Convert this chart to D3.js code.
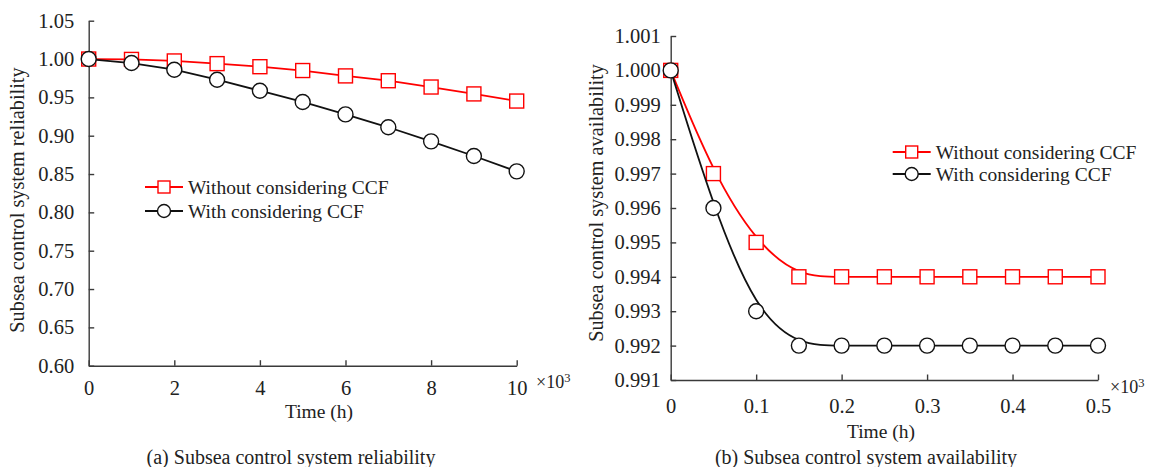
<!DOCTYPE html>
<html>
<head>
<meta charset="utf-8">
<script src="https://cdn.jsdelivr.net/npm/d3@7"></script>
<style>
  body { margin: 0; background: #fff; }
  svg { display: block; }
  text { font-family: "Liberation Serif", "Times New Roman", serif; fill: #222; }
</style>
</head>
<body>
<div id="fig"></div>
<script>
// data: time values (x10^3 h)
var relTime = [0, 1, 2, 3, 4, 5, 6, 7, 8, 9, 10];
var relWithout = [1.000, 0.9995, 0.9975, 0.994, 0.990, 0.985, 0.978, 0.9717, 0.9635, 0.9545, 0.9452];
var relWith = [1.000, 0.9948, 0.9861, 0.973, 0.9587, 0.944, 0.9278, 0.911, 0.8926, 0.8735, 0.8535];
var relYTicks = [0.60, 0.65, 0.70, 0.75, 0.80, 0.85, 0.90, 0.95, 1.00, 1.05];
var relXTicks = [0, 2, 4, 6, 8, 10];

var avTime = [0, 0.05, 0.10, 0.15, 0.20, 0.25, 0.30, 0.35, 0.40, 0.45, 0.50];
var avWithout = [1.000, 0.997, 0.995, 0.994, 0.994, 0.994, 0.994, 0.994, 0.994, 0.994, 0.994];
var avWith = [1.000, 0.996, 0.993, 0.992, 0.992, 0.992, 0.992, 0.992, 0.992, 0.992, 0.992];
var avYTicks = [0.991, 0.992, 0.993, 0.994, 0.995, 0.996, 0.997, 0.998, 0.999, 1.000, 1.001];
var avXTicks = [0, 0.1, 0.2, 0.3, 0.4, 0.5];

var seriesNames = ["Without considering CCF", "With considering CCF"];
var seriesColors = ["#ff0000", "#111111"];

var W = 1150, H = 467;
var axisColor = "#3a3a3a";

var svg = d3.select("#fig").append("svg")
    .attr("width", W)
    .attr("height", H);

//draws one panel
function drawPanel(opt) {
    var x = d3.scaleLinear().domain(opt.xDomain).range(opt.xRange);
    var y = d3.scaleLinear().domain(opt.yDomain).range(opt.yRange);
    var g = svg.append("g");

    //y axis, ticks pointing inside
    var yAx = g.append("g")
        .attr("transform", "translate(" + opt.xRange[0] + ",0)")
        .call(d3.axisLeft(y).tickValues(opt.yTicks).tickFormat(d3.format(opt.yFmt))
            .tickSizeInner(-5.5).tickSizeOuter(0).tickPadding(opt.yPad));
    //x axis
    var xAx = g.append("g")
        .attr("transform", "translate(0," + opt.yRange[0] + ")")
        .call(d3.axisBottom(x).tickValues(opt.xTicks).tickFormat(opt.xFmt)
            .tickSizeInner(-5.5).tickSizeOuter(0).tickPadding(opt.xPad));

    [yAx, xAx].forEach(function (a) {
        a.selectAll("path,line").attr("stroke", axisColor).attr("stroke-width", 1.4);
        a.selectAll("text").attr("fill", "#222").style("font-size", "20.5px")
            .style("font-family", "'Liberation Serif', serif");
    });

    //x10^3 mark
    var mult = g.append("text")
        .attr("x", opt.multX).attr("y", opt.multY)
        .style("font-size", "18px");
    mult.append("tspan").text("\u00d710");
    mult.append("tspan").attr("dy", -6).style("font-size", "12.5px").text("3");

    g.append("text")
        .attr("x", opt.xLabelX).attr("y", opt.xLabelY)
        .attr("text-anchor", "middle")
        .style("font-size", "19.5px")
        .text("Time (h)");

    g.append("text")
        .attr("transform", "translate(" + opt.yLabelX + "," + opt.yLabelY + ") rotate(-90)")
        .attr("text-anchor", "middle")
        .style("font-size", "20.3px")
        .text(opt.yLabel);

    g.append("text")
        .attr("x", opt.capX).attr("y", 464)
        .attr("text-anchor", "middle")
        .style("font-size", "20px")
        .text(opt.caption);

    var line = d3.line()
        .x(function (d) { return x(d[0]); })
        .y(function (d) { return y(d[1]); })
        .curve(opt.curve);

    opt.series.forEach(function (vals, k) {
        var pts = opt.time.map(function (t, i) { return [t, vals[i]]; });
        g.append("path")
            .attr("d", line(pts))
            .attr("fill", "none")
            .attr("stroke", seriesColors[k])
            .attr("stroke-width", 1.8);
        drawMarkers(g, pts.map(function (p) { return [x(p[0]), y(p[1])]; }), k, 7);
    });

    //legend
    opt.series.forEach(function (vals, k) {
        var ly = opt.legY[k];
        g.append("line")
            .attr("x1", opt.legX).attr("x2", opt.legX + 38)
            .attr("y1", ly).attr("y2", ly)
            .attr("stroke", seriesColors[k]).attr("stroke-width", 2);
        drawMarkers(g, [[opt.legX + 19, ly]], k, 6);
        g.append("text")
            .attr("x", opt.legX + 43).attr("y", ly + 6.5)
            .style("font-size", "19.5px")
            .text(seriesNames[k]);
    });
}

function drawMarkers(g, pts, k, r) {
    if (k == 0) {
        g.selectAll(null).data(pts).enter().append("rect")
            .attr("x", function (d) { return d[0] - r; })
            .attr("y", function (d) { return d[1] - r; })
            .attr("width", 2 * r).attr("height", 2 * r)
            .attr("fill", "#fff")
            .attr("stroke", seriesColors[k]).attr("stroke-width", 1.4);
    } else {
        g.selectAll(null).data(pts).enter().append("circle")
            .attr("cx", function (d) { return d[0]; })
            .attr("cy", function (d) { return d[1]; })
            .attr("r", r + 0.5)
            .attr("fill", "#fff")
            .attr("stroke", seriesColors[k]).attr("stroke-width", 1.4);
    }
}

//(a) reliability
drawPanel({
    xDomain: [0, 10], xRange: [88.7, 516.7],
    yDomain: [0.60, 1.05], yRange: [365.7, 20.7],
    yTicks: relYTicks, yFmt: ".2f", yPad: 14.5,
    xTicks: relXTicks, xFmt: d3.format("d"), xPad: 15,
    multX: 536, multY: 388,
    xLabelX: 319, xLabelY: 418,
    yLabelX: 24, yLabelY: 200,
    yLabel: "Subsea control system reliability",
    capX: 291, caption: "(a) Subsea control system reliability",
    time: relTime, series: [relWithout, relWith],
    curve: d3.curveLinear,
    legX: 145, legY: [187, 211]
});

//(b) availability
drawPanel({
    xDomain: [0, 0.5], xRange: [670.7, 1098],
    yDomain: [0.991, 1.001], yRange: [380, 36],
    yTicks: avYTicks, yFmt: ".3f", yPad: 10,
    xTicks: avXTicks, xFmt: function (d) { return d === 0 ? "0" : d3.format(".1f")(d); }, xPad: 18.5,
    multX: 1110, multY: 393,
    xLabelX: 881, xLabelY: 438,
    yLabelX: 603, yLabelY: 203,
    yLabel: "Subsea control system availability",
    capX: 866, caption: "(b) Subsea control system availability",
    time: avTime, series: [avWithout, avWith],
    curve: d3.curveBasis,
    legX: 892.7, legY: [152, 174]
});
</script>
</body>
</html>
